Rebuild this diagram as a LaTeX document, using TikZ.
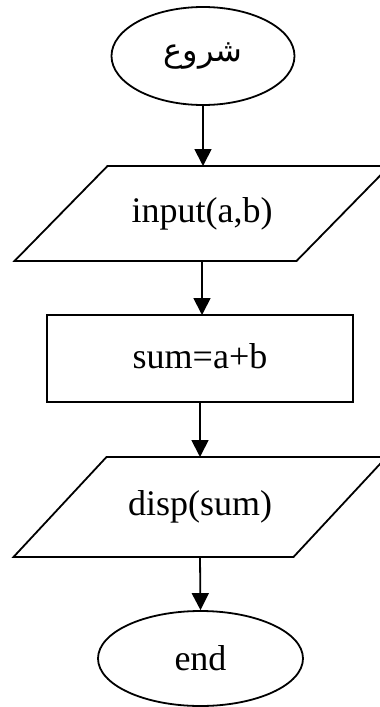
\documentclass[tikz,border=0pt]{standalone}
\usepackage{fontspec}
\setmainfont{Liberation Serif}
\newfontfamily\arabicfont[Script=Arabic]{DejaVu Sans}
\TeXXeTstate=1
\usetikzlibrary{shapes.geometric,arrows.meta}
\begin{document}
\begin{tikzpicture}[x=1pt,y=-1pt,
  line width=1.8pt,
  term/.style={ellipse,draw,inner sep=0pt},
  txt/.style={inner sep=0pt,outer sep=0pt,font=\fontsize{36}{40}\selectfont},
  flow/.style={-{Triangle[length=17pt,width=17pt]}}]
\useasboundingbox (0,0) rectangle (380,707);
\clip (0,0) rectangle (380,707);
\fill[white] (0,0) rectangle (380,707);
% start
\node[term,minimum width=183pt,minimum height=98pt] (start) at (203,56)
  {\fontsize{32}{36}\arabicfont\beginR شروع\endR};
% input
\node[txt,minimum width=282pt,minimum height=95pt] (in) at (202,213.5) {input(a,b)};
\draw ([xshift=-46.5pt]in.south west) -- ([xshift=-46.5pt]in.south east)
  -- ([xshift=46.5pt]in.north east) -- ([xshift=46.5pt]in.north west) -- cycle;
% process
\node[txt,draw,minimum width=306pt,minimum height=87pt,text depth=0pt] (sum) at (200,358.5) {\raisebox{4pt}{sum=a+b}};
% output
\node[txt,minimum width=280pt,minimum height=100pt] (out) at (200,507) {disp(sum)};
\draw ([xshift=-46.5pt]out.south west) -- ([xshift=-46.5pt]out.south east)
  -- ([xshift=46.5pt]out.north east) -- ([xshift=46.5pt]out.north west) -- cycle;
% end
\node[term,minimum width=205pt,minimum height=95pt,font=\fontsize{36}{40}\selectfont] (stop) at (200.5,658.5) {end};
% connectors
\draw[flow] (start.south) -- (start.south |- in.north);
\draw[flow] (in.south) -- (in.south |- sum.north);
\draw[flow] (sum.south) -- (sum.south |- out.north);
\draw[flow] (out.south) -- (stop.north);
\end{tikzpicture}
\end{document}
